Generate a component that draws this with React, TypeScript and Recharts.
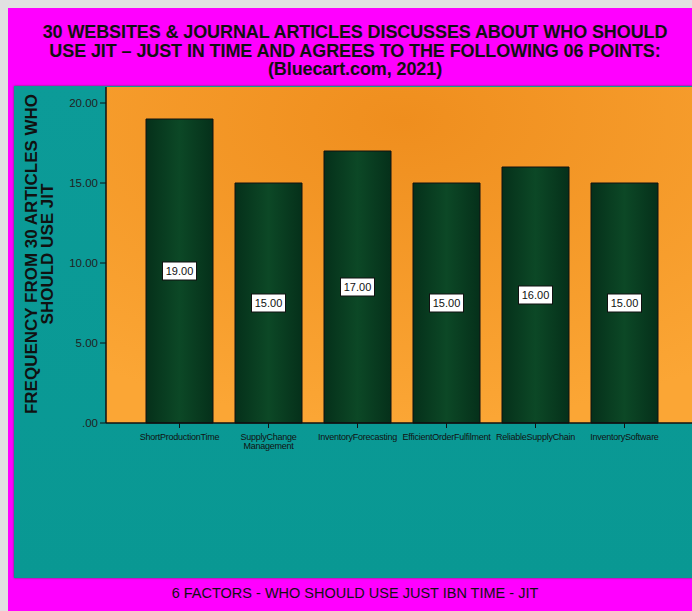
import { BarChart, Bar, XAxis, YAxis, CartesianGrid, LabelList } from 'recharts';

const categories = [
  'ShortProductionTime',
  'SupplyChange\nManagement',
  'InventoryForecasting',
  'EfficientOrderFulfilment',
  'ReliableSupplyChain',
  'InventorySoftware',
];
const frequencies = [19, 15, 17, 15, 16, 15];
const yTicks = [0, 5, 10, 15, 20];

const titleLines = [
  '30 WEBSITES & JOURNAL ARTICLES DISCUSSES ABOUT WHO SHOULD',
  'USE JIT \u2013 JUST IN TIME AND AGREES TO THE FOLLOWING 06 POINTS:',
  '(Bluecart.com, 2021)',
];
const yLabelLines = ['FREQUENCY FROM 30 ARTICLES WHO', 'SHOULD USE JIT'];
const footer = '6 FACTORS - WHO SHOULD USE JUST IBN TIME - JIT';

const data = categories.map((c, i) => ({ name: c, value: frequencies[i] }));

const font = 'Arial, "Liberation Sans", sans-serif';

const XTick = ({ x, y, payload }: any) => {
  const lines = String(payload.value).split('\n');
  return (
    <g>
      <line x1={x} x2={x} y1={y - 8} y2={y - 3} stroke="#111" strokeWidth={1} />
      <text x={x} y={y + 9} textAnchor="middle" fontSize={9} fontFamily={font} fill="#111" letterSpacing={-0.25}>
        {lines.map((l, i) => (
          <tspan key={i} x={x} dy={i === 0 ? 0 : 9}>{l}</tspan>
        ))}
      </text>
    </g>
  );
};

const YLabel = () => (
  <text transform="translate(23,168) rotate(-90)" textAnchor="middle" fontSize={17} fontWeight="bold" fontFamily={font} fill="#111">
    <tspan x={0} dy={0}>{yLabelLines[0]}</tspan>
    <tspan x={0} dy={16}>{yLabelLines[1]}</tspan>
  </text>
);

const ValueBox = (props: any) => {
  const { x, y, width, height, value } = props;
  const cx = x + width / 2;
  const cy = y + height / 2;
  return (
    <g>
      <rect x={cx - 17} y={cy - 9} width={34} height={18} fill="#fff" stroke="#111" strokeWidth={1} />
      <text x={cx} y={cy + 4} textAnchor="middle" fontSize={11} fontFamily={font} fill="#111">
        {Number(value).toFixed(2)}
      </text>
    </g>
  );
};

export default function App() {
  return (
    <div style={{ position: 'absolute', left: 0, top: 0, width: 692, height: 611, background: '#e1e1e1', overflow: 'hidden' }}>
      <div style={{ position: 'absolute', left: 8, top: 8, width: 720, height: 603, background: '#ff00ff' }}>
        <div
          style={{
            position: 'absolute', left: 0, top: 15, width: 694, textAlign: 'center',
            fontFamily: font, fontWeight: 'bold', fontSize: 18, lineHeight: '18.5px', color: '#111', letterSpacing: -0.1,
          }}
        >
          {titleLines.map((l, i) => (<div key={i}>{l}</div>))}
        </div>
        <div style={{ position: 'absolute', left: 6, top: 78, width: 714, height: 492, background: 'linear-gradient(180deg,#0c9b98,#099893)', boxShadow: '0 0 2px #444' }}>
          <BarChart width={700} height={492} data={data} margin={{ top: 1, right: 16, bottom: 115, left: 0 }}>
            <defs>
              <linearGradient id="barGrad" x1="0" y1="0" x2="1" y2="0">
                <stop offset="0%" stopColor="#05301a" />
                <stop offset="50%" stopColor="#0c4826" />
                <stop offset="100%" stopColor="#05301a" />
              </linearGradient>
              <radialGradient id="plotGrad" cx="0.5" cy="0.1" r="0.9">
                <stop offset="0%" stopColor="#ef8e1e" />
                <stop offset="100%" stopColor="#fba635" />
              </radialGradient>
            </defs>
            <CartesianGrid horizontal={false} vertical={false} fill="url(#plotGrad)" />
            <XAxis
              dataKey="name"
              height={40}
              padding={{ left: 29, right: 29 }}
              interval={0}
              tickLine={false}
              tick={<XTick />}
              axisLine={{ stroke: '#111', strokeWidth: 1.5 }}
            />
            <YAxis
              width={92}
              domain={[0, 21]}
              ticks={yTicks}
              tickSize={6}
              tickLine={{ stroke: '#111' }}
              axisLine={{ stroke: '#111', strokeWidth: 1.5 }}
              tick={{ fontSize: 11.5, fontFamily: font, fill: '#222' }}
              tickFormatter={(v: number) => (v === 0 ? '.00' : v.toFixed(2))}
              label={<YLabel />}
            />
            <Bar dataKey="value" barSize={67} fill="url(#barGrad)" stroke="#111" strokeWidth={1} isAnimationActive={false}>
              <LabelList dataKey="value" content={<ValueBox />} />
            </Bar>
          </BarChart>
        </div>
        <div style={{ position: 'absolute', left: 0, top: 577, width: 694, textAlign: 'center', fontFamily: font, fontSize: 14.5, lineHeight: '16px', color: '#111' }}>
          {footer}
        </div>
      </div>
    </div>
  );
}
